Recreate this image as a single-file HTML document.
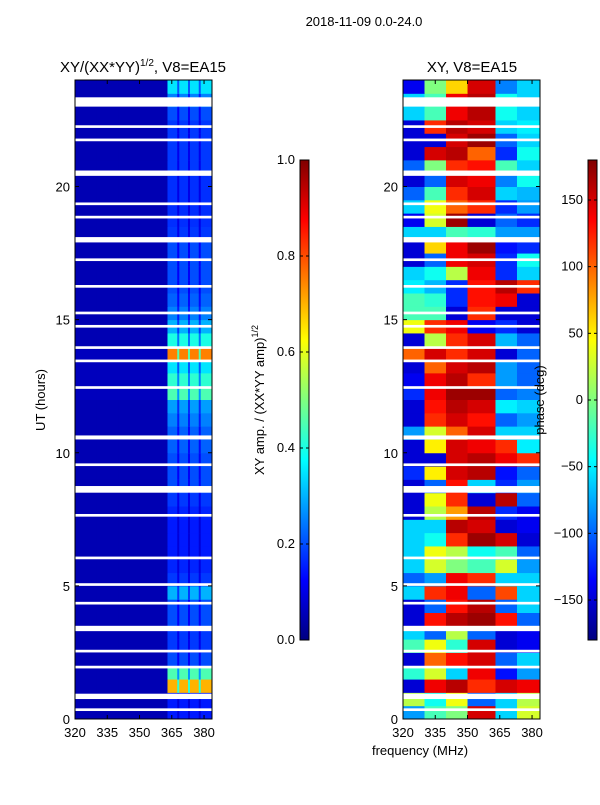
<!DOCTYPE html>
<html><head><meta charset="utf-8">
<style>
body{margin:0;background:#fff;font-family:"Liberation Sans","DejaVu Sans",sans-serif;}
svg text{font-family:"Liberation Sans","DejaVu Sans",sans-serif;fill:#000;}
</style></head>
<body>
<svg id="fig" width="600" height="800" viewBox="0 0 600 800">
<defs>
<linearGradient id="jetv" x1="0" y1="1" x2="0" y2="0">
<stop offset="0" stop-color="#000080"/><stop offset="0.125" stop-color="#0000ff"/>
<stop offset="0.375" stop-color="#00ffff"/><stop offset="0.625" stop-color="#ffff00"/>
<stop offset="0.875" stop-color="#ff0000"/><stop offset="1" stop-color="#800000"/>
</linearGradient>
</defs>
<text x="364" y="26" font-size="13" text-anchor="middle">2018-11-09 0.0-24.0</text>
<text x="143" y="72" font-size="15" text-anchor="middle">XY/(XX*YY)<tspan font-size="10" dy="-6">1/2</tspan><tspan dy="6">, V8=EA15</tspan></text>
<text x="472" y="72" font-size="15" text-anchor="middle">XY, V8=EA15</text>
<g id="left"></g>
<g id="right"></g>
<g id="axes"></g>
<text transform="translate(45,400) rotate(-90)" font-size="13" text-anchor="middle">UT (hours)</text>
<text x="420" y="755" font-size="13" text-anchor="middle">frequency (MHz)</text>
<rect x="300" y="160" width="9" height="480" fill="url(#jetv)" stroke="#000" stroke-width="1"/>
<rect x="588" y="160" width="9" height="480" fill="url(#jetv)" stroke="#000" stroke-width="1"/>
<text transform="translate(264,400) rotate(-90)" font-size="13" text-anchor="middle">XY amp. / (XX*YY amp)<tspan font-size="9" dy="-6">1/2</tspan></text>
<text transform="translate(544,400) rotate(-90)" font-size="13" text-anchor="middle">phase (deg)</text>
<g id="cb"></g>
</svg>
<script>
const NS="http://www.w3.org/2000/svg";
const freqEdges=[320,330,340,350,363,373,383.7];
const stripeFreqs=[368,373,378];
const xTicks=[320,335,350,365,380];
const yTicks=[0,5,10,15,20];
const ampTicks=[0.0,0.2,0.4,0.6,0.8,1.0];
const phaseTicks=[-150,-100,-50,0,50,100,150];
// amplitude per half-hour row (from 0h upward), 320-363 MHz and 363-384 MHz
const ampLow=[0.05,0.05,0.05,0.05,0.05,0.05,0.05,0.05,0.05,0.05,0.05,0.05,0.05,0.05,0.05,0.05,0.05,0.05,0.05,0.05,0.05,0.05,0.05,0.05,0.06,0.06,0.06,0.06,0.05,0.05,0.05,0.05,0.05,0.05,0.05,0.05,0.05,0.05,0.05,0.05,0.05,0.05,0.05,0.05,0.05,0.05,0.05,0.05];
const ampHigh=[0.15,0.15,0.7,0.45,0.2,0.18,0.18,0.2,0.2,0.3,0.18,0.16,0.15,0.15,0.15,0.16,0.18,0.2,0.2,0.2,0.22,0.22,0.25,0.28,0.45,0.42,0.35,0.75,0.4,0.3,0.25,0.22,0.2,0.2,0.2,0.2,0.18,0.17,0.17,0.17,0.17,0.18,0.18,0.18,0.18,0.2,0.25,0.35];
// phase (deg) per half-hour row from 0h upward, 6 frequency bins
const phase=[
[-80,-20,0,150,-60,30],[20,-40,40,-100,-60,20],[-150,140,160,120,150,140],[-30,30,-60,140,-130,-80],
[-150,100,130,150,-100,-60],[-20,40,-30,150,-150,-140],[-60,-100,20,-100,-150,-140],[-150,130,160,170,130,-100],
[-150,-100,130,160,-100,-60],[-60,120,140,-100,110,-60],[-100,-80,140,120,-60,-60],[-60,30,0,-20,30,-80],
[-60,40,20,-40,-20,-100],[-60,-40,120,170,150,-150],[-60,-60,160,150,-150,-140],[-150,20,80,160,-120,-140],
[-150,40,120,-150,160,-100],[-150,-100,130,-60,-120,-80],[-120,50,150,160,-130,-100],[-150,-150,150,160,140,120],
[-150,50,150,140,120,-50],[-80,30,100,150,-60,-60],[-150,120,150,130,-100,-80],[-150,130,160,150,-50,-60],
[-120,140,170,170,-100,-90],[-140,140,160,120,-80,-100],[-150,100,150,160,-80,-100],[100,150,120,150,-150,-100],
[-150,20,120,150,-70,-100],[40,120,140,-140,-120,-150],[-20,-20,-150,120,-150,-150],[-20,-30,-120,130,140,-150],
[-50,-70,-120,130,160,120],[-60,-40,20,140,-120,-60],[-150,-100,140,150,-120,-40],[-150,60,140,170,-130,-120],
[-60,-60,-20,-30,-80,-80],[-140,30,170,-150,-100,-120],[-60,40,100,120,-120,-80],[-100,-20,120,150,-60,-70],
[-150,-100,150,140,-90,-40],[-100,0,120,130,-20,-60],[-150,150,160,100,-120,-40],[-150,-150,150,170,-100,-60],
[-150,120,160,150,-60,-50],[-60,-20,140,160,-40,-60],[-60,-20,140,160,-40,-60],[-140,0,60,150,-90,-60]];
const gaps=[[23.0,23.35],[22.2,22.3],[21.7,21.8],[20.4,20.6],[19.3,19.4],[18.8,18.9],[17.9,18.1],[17.2,17.3],[16.2,16.3],[15.2,15.3],[14.7,14.8],[13.9,14.0],[13.4,13.5],[12.4,12.5],[10.5,10.65],[9.5,9.6],[8.5,8.75],[7.6,7.7],[6.0,6.1],[5.0,5.1],[4.3,4.4],[3.3,3.5],[2.5,2.6],[1.9,2.0],[0.75,0.95],[0.3,0.4]];

const Y0=719,Y1=80;
const yS=h=>Y0-(h/24)*(Y0-Y1);
const xL=f=>75+(f-320)*(137/63.7);
const xR=f=>403+(f-320)*(137/63.7);
function jet(v){v=Math.max(0,Math.min(1,v));
 const st=[[0,0,0,128],[0.125,0,0,255],[0.375,0,255,255],[0.625,255,255,0],[0.875,255,0,0],[1,128,0,0]];
 for(let i=1;i<st.length;i++){if(v<=st[i][0]){const a=st[i-1],b=st[i],t=(v-a[0])/(b[0]-a[0]);
  return `rgb(${Math.round(a[1]+t*(b[1]-a[1]))},${Math.round(a[2]+t*(b[2]-a[2]))},${Math.round(a[3]+t*(b[3]-a[3]))})`;}}
 return "rgb(128,0,0)";}
function rect(g,x,y,w,h,fill,name){const r=document.createElementNS(NS,"rect");
 r.setAttribute("x",x);r.setAttribute("y",y);r.setAttribute("width",w);r.setAttribute("height",h);r.setAttribute("fill",fill);
 
 
 g.appendChild(r);return r;}
function text(g,x,y,s,anchor,name){const t=document.createElementNS(NS,"text");
 t.setAttribute("x",x);t.setAttribute("y",y);t.setAttribute("font-size","13");t.setAttribute("text-anchor",anchor);t.textContent=s;
 
 
 g.appendChild(t);}
const L=document.getElementById("left"),R=document.getElementById("right");
for(let r=0;r<48;r++){
 const yt=yS((r+1)*0.5),yb=yS(r*0.5),h=yb-yt+0.5;
 for(let c=0;c<6;c++){
  const f0=freqEdges[c],f1=freqEdges[c+1];
  const a=c<4?ampLow[r]:ampHigh[r];
  rect(L,xL(f0),yt,xL(f1)-xL(f0)+0.5,h,jet(a),"amp-cell");
  rect(R,xR(f0),yt,xR(f1)-xR(f0)+0.5,h,jet((phase[r][c]+180)/360),"phase-cell");
 }
 stripeFreqs.forEach(f=>rect(L,xL(f)-1,yt,2,h,jet(ampHigh[r]*0.6),"amp-stripe"));
}
gaps.forEach(g=>{
 rect(L,75,yS(g[1]),137,yS(g[0])-yS(g[1]),"#fff","data-gap");
 rect(R,403,yS(g[1]),137,yS(g[0])-yS(g[1]),"#fff","data-gap");
});
const A=document.getElementById("axes");
[[75,xL],[403,xR]].forEach(([x0,fx],pi)=>{
 const fr=document.createElementNS(NS,"rect");
 fr.setAttribute("x",x0);fr.setAttribute("y",80);fr.setAttribute("width",137);fr.setAttribute("height",639);
 fr.setAttribute("fill","none");fr.setAttribute("stroke","#000");
 
 
 A.appendChild(fr);
 xTicks.forEach(v=>{const x=fx(v);
  rect(A,x-0.5,715,1,4,"#000","x-tick");rect(A,x-0.5,80,1,4,"#000","x-tick");
  text(A,x,737,String(v),"middle","x-tick-label");});
 yTicks.forEach(v=>{const y=yS(v);
  rect(A,x0,y-0.5,4,1,"#000","y-tick");rect(A,x0+133,y-0.5,4,1,"#000","y-tick");
  text(A,x0-5,y+5,String(v),"end","y-tick-label");});
});
const C=document.getElementById("cb");
ampTicks.forEach(v=>{const y=640-v*480;
 rect(C,300,y-0.5,3,1,"#000","colorbar-tick");rect(C,306,y-0.5,3,1,"#000","colorbar-tick");
 text(C,295,y+4,v.toFixed(1),"end","amp-colorbar-label");});
phaseTicks.forEach(v=>{const y=640-(v+180)/360*480;
 rect(C,588,y-0.5,3,1,"#000","colorbar-tick");rect(C,594,y-0.5,3,1,"#000","colorbar-tick");
 text(C,583,y+4,String(v).replace("-","\u2212"),"end","phase-colorbar-label");});
</script>
</body></html>
